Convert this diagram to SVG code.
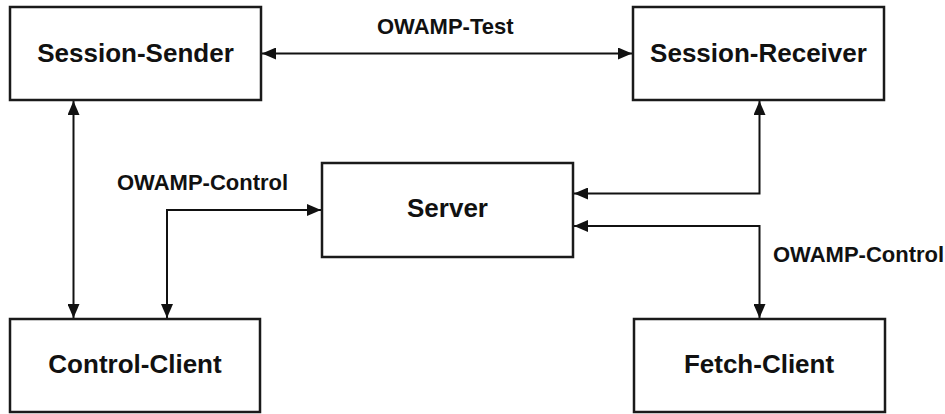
<svg xmlns="http://www.w3.org/2000/svg" width="945" height="414" viewBox="0 0 945 414">
<style>
.box{fill:#fff;stroke:#1a1a1a;stroke-width:2.5}
.lbl{font-family:"Liberation Sans",Arial,sans-serif;font-weight:bold;font-size:26px;fill:#111;text-anchor:middle}
.elbl{font-family:"Liberation Sans",Arial,sans-serif;font-weight:bold;font-size:22px;fill:#111}
.conn{fill:none;stroke:#111;stroke-width:2}
</style>
<defs>
<marker id="arr" viewBox="0 0 14 12" refX="14" refY="6" markerWidth="14" markerHeight="12" markerUnits="userSpaceOnUse" orient="auto-start-reverse">
<path d="M0,0 L14,6 L0,12 z" fill="#111"/>
</marker>
</defs>
<rect width="945" height="414" fill="#fff"/>
<g id="connectors">
<path class="conn" d="M262,53.5 H632" marker-start="url(#arr)" marker-end="url(#arr)"/>
<path class="conn" d="M73.5,101 V318" marker-start="url(#arr)" marker-end="url(#arr)"/>
<path class="conn" d="M321,210 H167 V318" marker-start="url(#arr)" marker-end="url(#arr)"/>
<path class="conn" d="M759.5,101 V193.5 H574" marker-start="url(#arr)" marker-end="url(#arr)"/>
<path class="conn" d="M574,226 H759.5 V318" marker-start="url(#arr)" marker-end="url(#arr)"/>
<text class="elbl" x="377" y="34">OWAMP-Test</text>
<text class="elbl" x="117" y="190">OWAMP-Control</text>
<text class="elbl" x="773" y="262">OWAMP-Control</text>
</g>
<g id="session-sender">
<rect class="box" x="10" y="7" width="251" height="93"/>
<text class="lbl" x="135.5" y="62">Session-Sender</text>
</g>
<g id="session-receiver">
<rect class="box" x="633" y="7" width="251" height="93"/>
<text class="lbl" x="758.5" y="62">Session-Receiver</text>
</g>
<g id="server">
<rect class="box" x="322" y="163" width="251" height="94"/>
<text class="lbl" x="447.5" y="217">Server</text>
</g>
<g id="control-client">
<rect class="box" x="10" y="319" width="250" height="93"/>
<text class="lbl" x="135" y="373">Control-Client</text>
</g>
<g id="fetch-client">
<rect class="box" x="634" y="319" width="251" height="93"/>
<text class="lbl" x="759" y="373">Fetch-Client</text>
</g>
</svg>
